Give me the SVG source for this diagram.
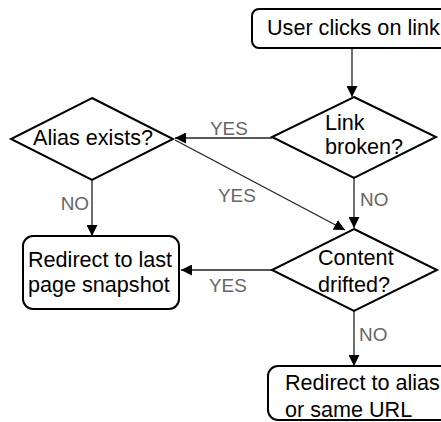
<svg xmlns="http://www.w3.org/2000/svg" width="441" height="422" viewBox="0 0 441 422">
<style>
.node{fill:#fff;stroke:#000;stroke-width:2}
.t{font-family:"Liberation Sans",Arial,sans-serif;font-size:21.6px;fill:#000}
.lbl{font-family:"Liberation Sans",Arial,sans-serif;font-size:18.9px;fill:#666}
.c{fill:none;stroke:#222;stroke-width:1.3}
</style>
<defs>
<marker id="ah" markerUnits="userSpaceOnUse" markerWidth="12" markerHeight="11" refX="11" refY="5.5" orient="auto">
<path d="M0,0 L11,5.5 L0,11 z" fill="#000"/>
</marker>
</defs>
<rect width="441" height="422" fill="#fff"/>
<g id="connectors">
<line class="c" x1="352" y1="48" x2="352" y2="97" marker-end="url(#ah)"/>
<line class="c" x1="272" y1="138" x2="175" y2="138" marker-end="url(#ah)"/>
<line class="c" x1="175" y1="140" x2="345" y2="230" marker-end="url(#ah)"/>
<line class="c" x1="354" y1="178" x2="354" y2="228" marker-end="url(#ah)"/>
<line class="c" x1="272" y1="270" x2="181" y2="270" marker-end="url(#ah)"/>
<line class="c" x1="92" y1="180" x2="92" y2="236" marker-end="url(#ah)"/>
<line class="c" x1="354" y1="311" x2="354" y2="366" marker-end="url(#ah)"/>
<text class="lbl" x="210" y="135">YES</text>
<text class="lbl" x="218" y="202">YES</text>
<text class="lbl" x="360" y="206">NO</text>
<text class="lbl" x="209" y="292">YES</text>
<text class="lbl" x="89" y="210" text-anchor="end">NO</text>
<text class="lbl" x="359" y="341">NO</text>
</g>
<g id="start">
<rect class="node" x="252" y="9" width="210" height="39" rx="7"/>
<text class="t" x="267" y="35">User clicks on link</text>
</g>
<g id="linkBroken">
<polygon class="node" points="354,97 436,137 354,178 272,137"/>
<text class="t" x="325" y="130">Link</text>
<text class="t" x="325" y="154">broken?</text>
</g>
<g id="aliasExists">
<polygon class="node" points="92,98 173,139 92,180 11,139"/>
<text class="t" x="33" y="145">Alias exists?</text>
</g>
<g id="contentDrifted">
<polygon class="node" points="354,229 437,270 354,311 272,270"/>
<text class="t" x="318" y="265">Content</text>
<text class="t" x="318" y="292">drifted?</text>
</g>
<g id="redirectSnapshot">
<rect class="node" x="23" y="236" width="156" height="73" rx="10"/>
<text class="t" x="28" y="267">Redirect to last</text>
<text class="t" x="28" y="292">page snapshot</text>
</g>
<g id="redirectAlias">
<rect class="node" x="268" y="366" width="210" height="54" rx="10"/>
<text class="t" x="285" y="390">Redirect to alias</text>
<text class="t" x="285" y="417">or same URL</text>
</g>
</svg>
